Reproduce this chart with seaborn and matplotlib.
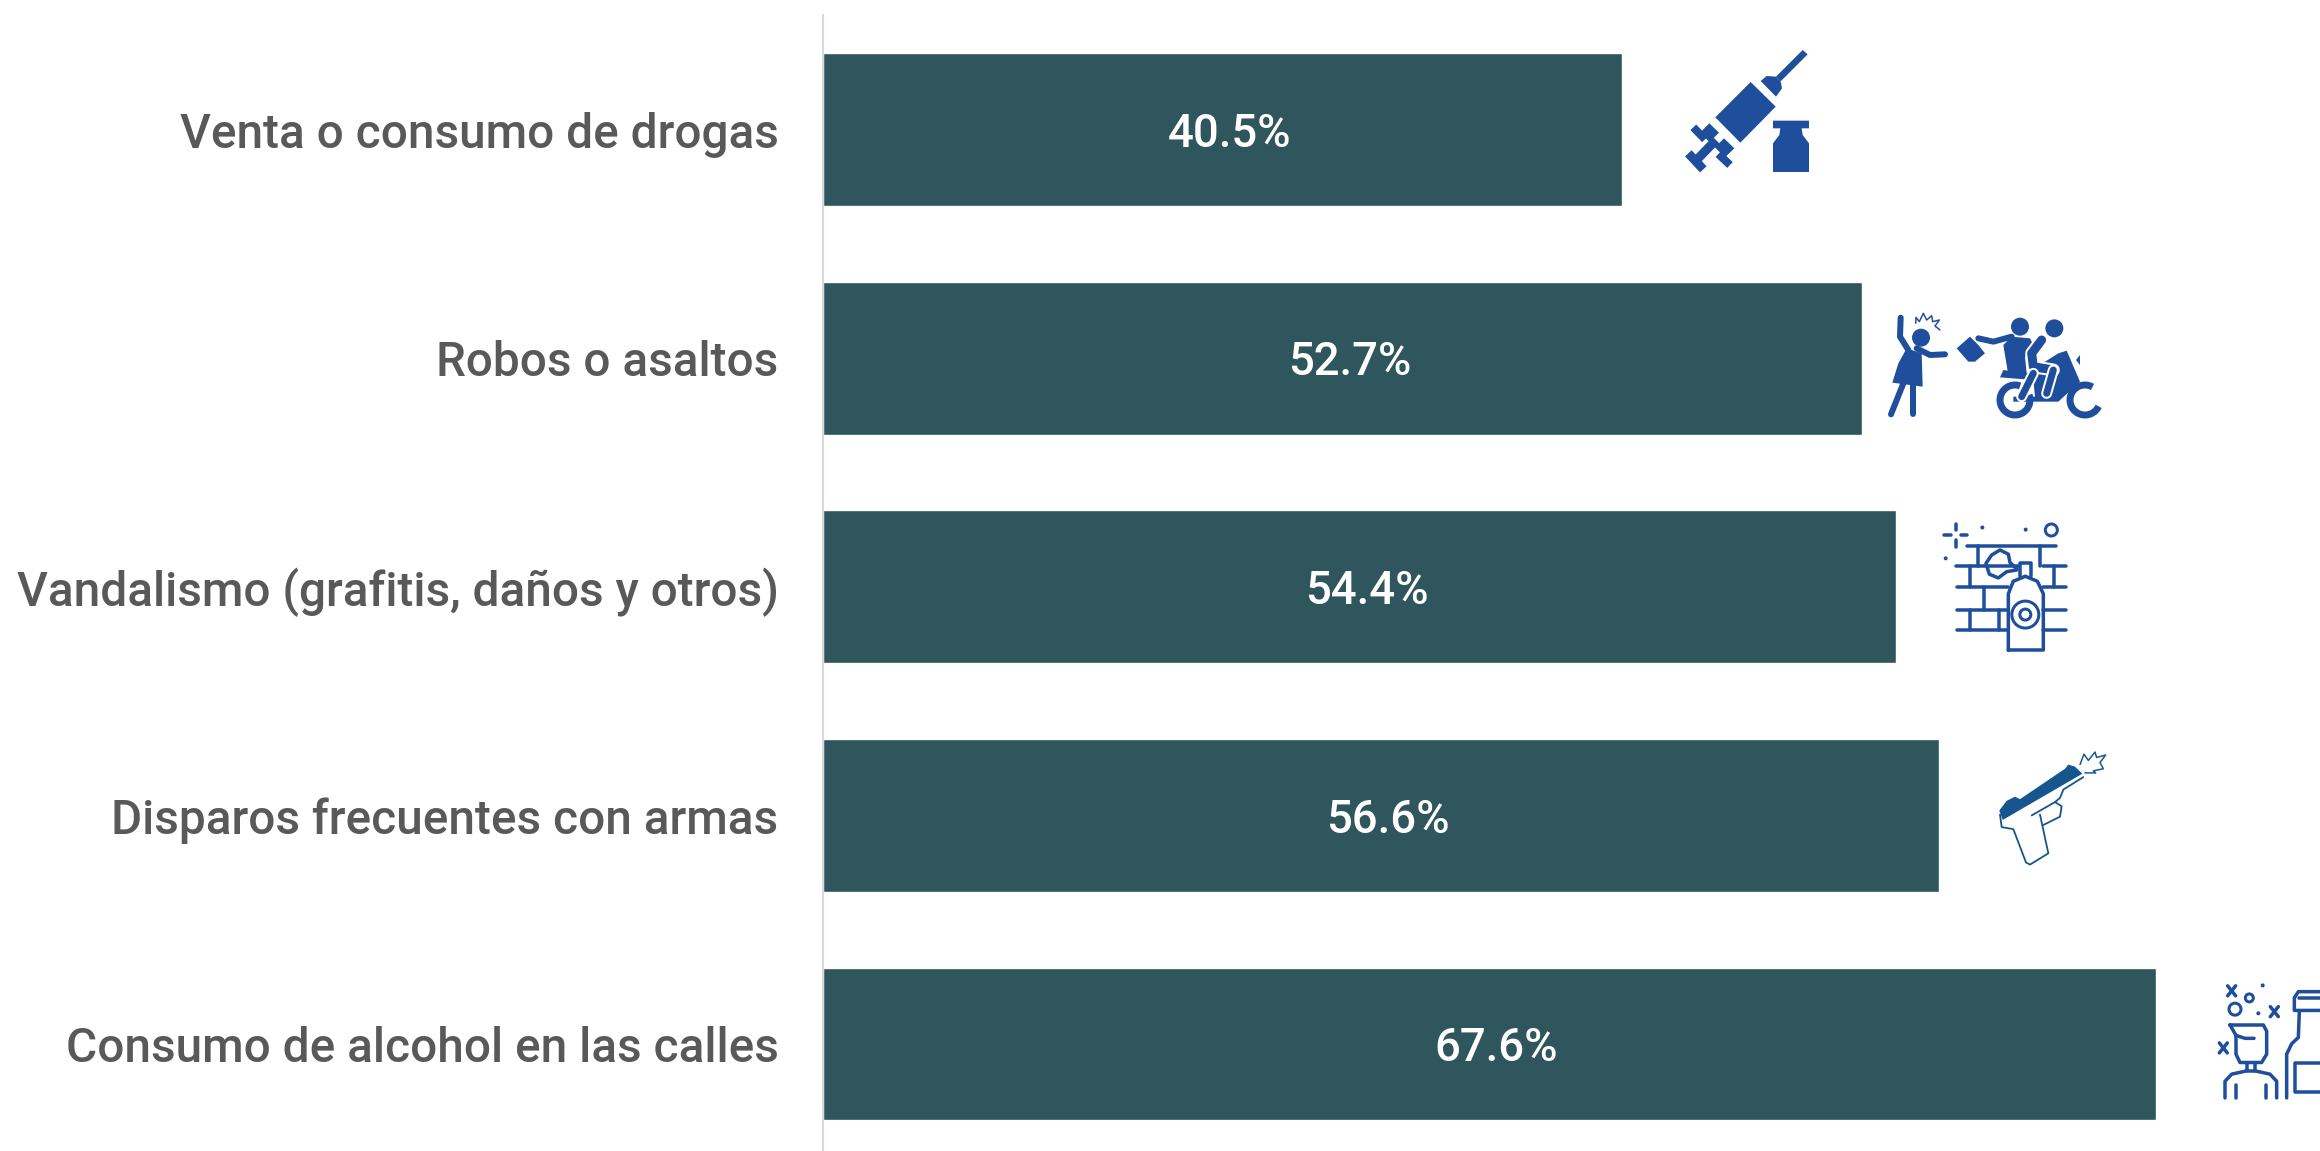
import matplotlib.pyplot as plt
import matplotlib.patches as mpatches
import seaborn as sns

# --- datos ---
categorias = ['Venta o consumo de drogas', 'Robos o asaltos',
              'Vandalismo (grafitis, daños y otros)',
              'Disparos frecuentes con armas', 'Consumo de alcohol en las calles']
porcentajes = [40.5, 52.7, 54.4, 56.6, 67.6]

COLOR_BARRA = '#2F555D'
COLOR_TEXTO = '#595959'
COLOR_ICONO = '#1F4E9C'
COLOR_ARMA = '#17558F'

sns.set_theme(style='white')
plt.rcParams['font.family'] = ['Roboto', 'DejaVu Sans']

fig = plt.figure(figsize=(23.2, 11.51), dpi=100, facecolor='white')
ax = fig.add_axes([823 / 2320, 0, 1 - 823 / 2320, 1 - 15 / 1151])

sns.barplot(x=porcentajes, y=categorias, color=COLOR_BARRA, saturation=1,
            width=0.669, ax=ax)
ax.set_xlim(0, 75.9)
ax.set_ylim(4.468, -0.501)

for i, v in enumerate(porcentajes):
    ax.annotate(f'{v:.1f}%', xy=(v / 2, i), xytext=(5, -3), textcoords='offset points',
                ha='center', va='center', color='white', fontsize=32.8, fontweight='medium')

for lado in ['top', 'right', 'bottom']:
    ax.spines[lado].set_visible(False)
ax.spines['left'].set_color('#D9D9D9')
ax.spines['left'].set_linewidth(1.5)
ax.set_xticks([])
ax.tick_params(axis='y', length=0, pad=32)
for t in ax.get_yticklabels():
    t.set_fontsize(34.4)
    t.set_color(COLOR_TEXTO)
    t.set_fontweight('medium')
ax.set_xlabel('')
ax.set_ylabel('')

# --- iconos: capa en pixeles de la imagen ---
ov = fig.add_axes([0, 0, 1, 1], facecolor='none')
ov.set_xlim(0, 2320)
ov.set_ylim(1151, 0)
ov.axis('off')


def z1(pts):
    return [(1650 + x / 3, 20 + y / 3) for x, y in pts]


def z2(pts):
    return [(1900 + x / 3, 500 + y / 2.4) for x, y in pts]


def relleno(pts, color=COLOR_ICONO):
    ov.add_patch(mpatches.Polygon(pts, closed=True, fc=color, ec='none'))


def linea(pts, ancho, color=COLOR_ICONO, cap='round'):
    xs, ys = zip(*pts)
    ov.plot(xs, ys, color=color, lw=ancho * 0.72, solid_capstyle=cap, solid_joinstyle='round')


def circulo(c, r, lleno=True, ancho=3):
    ov.add_patch(mpatches.Circle(c, r, fc=COLOR_ICONO if lleno else 'none',
                                 ec=COLOR_ICONO, lw=0 if lleno else ancho * 0.72))


# jeringa
relleno(z1([(458, 90), (473, 103), (392, 184), (378, 170)]))
relleno(z1([(332, 183), (350, 168), (378, 170), (392, 184), (396, 205), (378, 230)]))
relleno(z1([(302, 186), (377, 260), (271, 368), (196, 292)]))
relleno(z1([(178, 310), (207, 338), (190, 355), (205, 372), (222, 355), (253, 385), (225, 412),
            (150, 338)]))
linea(z1([(130, 322), (165, 358)]), 8, cap='butt')
linea(z1([(205, 402), (240, 435)]), 8, cap='butt')
linea(z1([(198, 360), (135, 425)]), 9, cap='butt')
linea(z1([(115, 400), (160, 448)]), 9, cap='butt')
relleno(z1([(369, 302), (477, 302), (477, 325), (455, 325), (458, 345), (477, 370), (477, 456),
            (369, 456), (369, 370), (388, 345), (391, 325), (369, 325)]))

# victima
circulo(z1([(813, 953)])[0], 9)
linea(z1([(752, 893), (750, 950), (775, 990)]), 6)
linea(z1([(800, 985), (840, 1005), (885, 1003)]), 6)
relleno(z1([(770, 985), (815, 1000), (818, 1100), (727, 1088), (745, 1030)]))
linea(z1([(760, 1090), (723, 1183)]), 6)
linea(z1([(788, 1095), (788, 1183)]), 6)
linea(z1([(797, 910), (798, 892), (808, 905), (820, 880), (830, 900), (845, 887), (848, 905),
          (868, 900), (855, 918), (870, 930)]), 1.5)
# bolso y motociclistas
relleno(z1([(920, 985), (960, 950), (985, 975), (1005, 1000), (975, 1025), (955, 1025)]))
linea(z1([(985, 955), (1030, 965), (1085, 950)]), 6)
circulo(z1([(1110, 920)])[0], 9)
circulo(z1([(1213, 925)])[0], 9)
relleno(z1([(1060, 975), (1085, 950), (1140, 955), (1150, 975), (1125, 1010), (1130, 1060),
            (1150, 1075), (1075, 1065)]))
relleno(z1([(1090, 1130), (1155, 1130), (1150, 1080), (1050, 1072), (1060, 1050), (1130, 1060),
            (1225, 1000), (1250, 992), (1290, 1085), (1225, 1145), (1090, 1145)]))
linea(z1([(1175, 960), (1145, 1000), (1150, 1040), (1210, 1050)]), 13, color='white')
linea(z1([(1175, 960), (1145, 1000), (1150, 1040), (1210, 1050)]), 9)
linea(z1([(1210, 1050), (1190, 1120)]), 11, color='white')
linea(z1([(1210, 1050), (1190, 1120)]), 7)
linea(z1([(1150, 1060), (1115, 1130)]), 11, color='white')
linea(z1([(1150, 1060), (1115, 1130)]), 7)
ov.add_patch(mpatches.Arc(z1([(1095, 1140)])[0], 30, 30, theta1=-20, theta2=290,
                          ec=COLOR_ICONO, lw=5))
ov.add_patch(mpatches.Arc(z1([(1305, 1140)])[0], 30, 30, theta1=25, theta2=300,
                          ec=COLOR_ICONO, lw=5))
relleno(z1([(1278, 1020), (1290, 1005), (1290, 1035)]))

# ladrillos y aerosol
for pts in [[(200, 110), (468, 110)], [(168, 158), (355, 158)], [(430, 158), (498, 158)],
            [(170, 209), (325, 209)], [(430, 209), (498, 209)], [(170, 263), (325, 263)],
            [(430, 263), (498, 263)], [(170, 313), (325, 313)], [(430, 313), (498, 313)],
            [(233, 110), (233, 158)], [(420, 110), (420, 158)], [(210, 158), (210, 209)],
            [(463, 158), (463, 209)], [(253, 209), (253, 263)], [(210, 263), (210, 313)],
            [(298, 263), (298, 313)]]:
    linea(z2(pts), 3.5)
relleno(z2([(325, 360), (325, 225), (340, 195), (376, 183), (412, 195), (430, 225), (430, 360)]),
        'white')
linea(z2([(325, 360), (325, 225), (340, 195), (376, 183), (412, 195), (430, 225), (430, 360),
          (325, 360)]), 3.5)
linea(z2([(360, 183), (360, 150), (392, 150), (392, 183)]), 3.5)
circulo(z2([(376, 275)])[0], 13.5, lleno=False)
circulo(z2([(376, 275)])[0], 5.5, lleno=False)
linea(z2([(167, 58), (167, 72)]), 3.5)
linea(z2([(167, 97), (167, 112)]), 3.5)
linea(z2([(132, 85), (152, 85)]), 3.5)
linea(z2([(182, 85), (200, 85)]), 3.5)
for c in [(247, 66), (377, 71), (137, 140)]:
    circulo(z2([c])[0], 2)
circulo(z2([(454, 72)])[0], 6, lleno=False)
relleno(z2([(350, 168), (320, 172), (295, 187), (268, 178), (258, 152), (275, 132), (300, 120),
            (325, 130), (330, 150)]), 'white')
linea(z2([(350, 168), (320, 172), (295, 187), (268, 178), (258, 152), (275, 132), (300, 120),
          (325, 130), (330, 150), (350, 165)]), 3.5)

# pistola
relleno(z2([(298, 745), (320, 722), (345, 712), (360, 718), (495, 645), (505, 635), (525, 640),
            (547, 657), (308, 768)]), COLOR_ARMA)
linea(z2([(300, 755), (305, 785), (340, 790), (378, 870), (390, 875), (445, 848), (420, 755)]),
      1.8, COLOR_ARMA)
linea(z2([(395, 757), (465, 725), (485, 735), (480, 760), (430, 780)]), 1.8, COLOR_ARMA)
linea(z2([(550, 665), (490, 695), (480, 715), (465, 725)]), 1.8, COLOR_ARMA)
linea(z2([(540, 635), (552, 610), (565, 625), (585, 605), (590, 618), (617, 612), (600, 630),
          (610, 645), (580, 650), (587, 655), (555, 655)]), 1.5, COLOR_ARMA)

# hombre ebrio y botella
linea(z2([(990, 1260), (1090, 1260), (1100, 1275), (1100, 1330), (1085, 1350), (1020, 1350),
          (1008, 1330), (1008, 1285), (990, 1260)]), 3.5)
linea(z2([(1008, 1285), (1035, 1292), (1062, 1292)]), 3.5)
linea(z2([(1040, 1352), (1040, 1370), (1065, 1370), (1065, 1352)]), 3.5)
linea(z2([(975, 1435), (975, 1395), (995, 1378), (1040, 1370)]), 3.5)
linea(z2([(1065, 1370), (1110, 1378), (1130, 1395), (1130, 1435)]), 3.5)
linea(z2([(1008, 1405), (1008, 1435)]), 3.5)
linea(z2([(1098, 1405), (1098, 1435)]), 3.5)
linea(z2([(1160, 1435), (1160, 1330), (1175, 1305), (1195, 1290), (1198, 1228)]), 3.5)
linea(z2([(1260, 1180), (1195, 1180), (1183, 1195), (1183, 1225), (1260, 1225)]), 3.5)
linea(z2([(1198, 1195), (1260, 1195)]), 3.5)
linea(z2([(1260, 1350), (1185, 1350), (1185, 1420), (1260, 1420)]), 3.5)
for x, y in [(995, 1178), (1123, 1228), (970, 1315)]:
    linea(z2([(x - 12, y - 12), (x + 12, y + 12)]), 3.5)
    linea(z2([(x - 12, y + 12), (x + 12, y - 12)]), 3.5)
circulo(z2([(1005, 1222)])[0], 6, lleno=False)
circulo(z2([(1048, 1195)])[0], 4, lleno=False)
for c in [(1088, 1165), (1075, 1232)]:
    circulo(z2([c])[0], 2)

fig.savefig('out.png', dpi=100)
